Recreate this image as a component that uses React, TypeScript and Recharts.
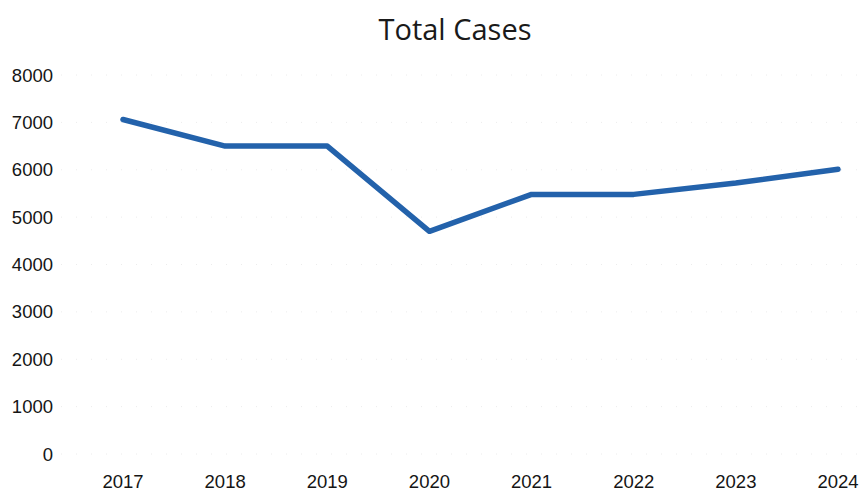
import { LineChart, Line, XAxis, YAxis, CartesianGrid } from "recharts";

const YEARS = ["2017", "2018", "2019", "2020", "2021", "2022", "2023", "2024"];
const TOTAL_CASES = [7060, 6500, 6500, 4700, 5480, 5480, 5720, 6010];
const Y_TICKS = [0, 1000, 2000, 3000, 4000, 5000, 6000, 7000, 8000];

const data = YEARS.map((year, i) => ({ year, cases: TOTAL_CASES[i] }));

const tickStyle = { fontSize: 18.5, fill: "#151515", fontFamily: "Liberation Sans, Arial, sans-serif" };

export default function App() {
  return (
    <div style={{ position: "fixed", left: 0, top: 0, width: 861, height: 495, background: "#fff" }}>
      <div
        style={{
          position: "absolute",
          left: 0,
          width: 910,
          top: 9,
          textAlign: "center",
          fontSize: 29,
          color: "#1a1a1a",
          fontFamily: "Open Sans, Liberation Sans, sans-serif",
        }}
      >
        Total Cases
      </div>
      <LineChart width={861} height={495} data={data} margin={{ top: 75, right: 0, bottom: 11, left: 0 }}>
        <CartesianGrid vertical={false} stroke="#ececec" strokeDasharray="1 14" />
        <XAxis
          dataKey="year"
          axisLine={false}
          tickLine={false}
          tick={tickStyle}
          tickMargin={15}
          height={30}
          padding={{ left: 62, right: 23 }}
        />
        <YAxis
          domain={[0, 8000]}
          ticks={Y_TICKS}
          axisLine={false}
          tickLine={false}
          tick={tickStyle}
          width={61}
        />
        <Line
          type="linear"
          dataKey="cases"
          stroke="#2362ab"
          strokeWidth={5.5}
          strokeLinejoin="round"
          strokeLinecap="round"
          dot={false}
          isAnimationActive={false}
        />
      </LineChart>
    </div>
  );
}
